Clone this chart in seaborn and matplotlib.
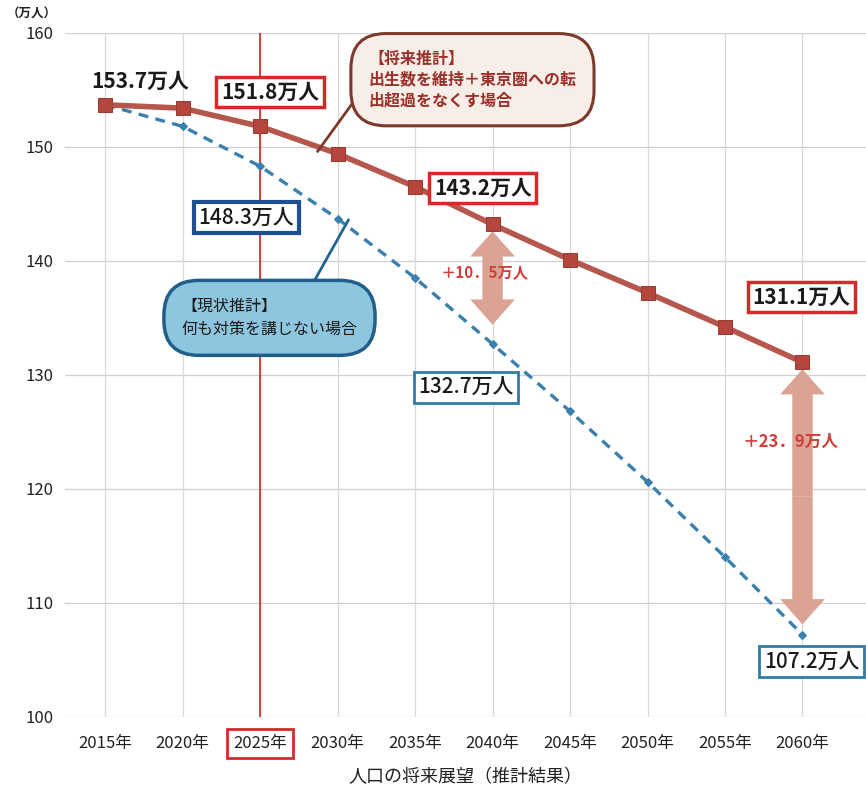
import numpy as np
import pandas as pd
import matplotlib.pyplot as plt
import seaborn as sns
from matplotlib.patches import FancyArrowPatch

years = [2015, 2020, 2025, 2030, 2035, 2040, 2045, 2050, 2055, 2060]
future_pop = [153.7, 153.4, 151.8, 149.4, 146.5, 143.2, 140.1, 137.2, 134.2, 131.1]
current_pop = [153.7, 151.8, 148.3, 143.7, 138.5, 132.7, 126.8, 120.6, 114.0, 107.2]
year_labels = [f"{y}年" for y in years]
yticks = [100, 110, 120, 130, 140, 150, 160]

sns.set_style("white")
plt.rcParams['font.family'] = ['Noto Sans CJK JP', 'DejaVu Sans']

df = pd.DataFrame({"year": years, "future": future_pop, "current": current_pop})

fig = plt.figure(figsize=(8.66, 7.85), dpi=100)
ax = fig.add_axes([0.075, 0.087, 0.925, 0.871])

# grid
for yv in yticks:
    ax.axhline(yv, color="#cfcfcf", lw=0.9, zorder=0)
for xv in years:
    ax.axvline(xv, color="#d8d8d8", lw=0.9, zorder=0)
ax.axvline(2025, color="#d3302c", lw=1.3, zorder=1)

sns.lineplot(data=df, x="year", y="current", ax=ax, color="#3a80ae", lw=2.4,
             linestyle=(0, (3, 2.2)), marker="D", markersize=4,
             markeredgecolor="#3a80ae", zorder=3)
sns.lineplot(data=df, x="year", y="future", ax=ax, color="#b5574c", lw=4,
             marker="s", markersize=10, markerfacecolor="#b4463e",
             markeredgecolor="#9c3b34", zorder=4)

ax.set_xlim(2012.4, 2064.1)
ax.set_ylim(100, 160)
ax.set_yticks(yticks)
ax.set_yticklabels([str(v) for v in yticks], fontsize=12, color="#222222")
ax.set_xticks(years)
ax.set_xticklabels(year_labels, fontsize=12, color="#222222")
ax.tick_params(axis="y", length=0, pad=8)
ax.tick_params(axis="x", length=0, pad=13)
for s in ax.spines.values():
    s.set_visible(False)
ax.set_ylabel("")
ax.set_xlabel("人口の将来展望（推計結果）", fontsize=13, color="#222222", labelpad=12)
for lab in ax.get_xticklabels():
    if lab.get_text() == "2025年":
        lab.set_bbox(dict(boxstyle="square,pad=0.35", fc="white", ec="#d42a2a", lw=2))
fig.text(0.008, 0.982, "（万人）", fontsize=9, fontweight="bold", color="#222222",
         va="center", ha="left")

# value labels
def vlabel(txt, x, y, dx, dy, ec=None, lw=2.5, weight="bold"):
    kw = dict(fontsize=15, fontweight=weight, color="#1a1a1a", ha="center",
              va="center", textcoords="offset points", zorder=6)
    if ec:
        kw["bbox"] = dict(boxstyle="square,pad=0.22", fc="white", ec=ec, lw=lw)
    ax.annotate(txt, xy=(x, y), xytext=(dx, dy), **kw)

vlabel("153.7万人", 2015, future_pop[0], 25, 17)
vlabel("151.8万人", 2025, future_pop[2], 7, 24.5, ec="#d42a2a")
vlabel("143.2万人", 2040, future_pop[5], -7, 26, ec="#d42a2a")
vlabel("131.1万人", 2060, future_pop[9], -1, 47, ec="#d42a2a")
vlabel("148.3万人", 2025, current_pop[2], -10, -37, ec="#1d4f95", lw=3, weight="medium")
vlabel("132.7万人", 2040, current_pop[5], -19, -31, ec="#2f7ca8", lw=2, weight="medium")
vlabel("107.2万人", 2060, current_pop[9], 6.5, -19.5, ec="#2f7ca8", lw=2, weight="medium")

# gap arrows
def darrow(x, top, bottom):
    mid = (top + bottom) / 2
    for end in (top, bottom):
        ax.add_patch(FancyArrowPatch((x, mid), (x, end),
                                     arrowstyle="simple,head_length=1.3,head_width=2.3,tail_width=1.05",
                                     mutation_scale=14, color="#dba394", lw=0, zorder=2,
                                     shrinkA=0, shrinkB=0))

darrow(2040, future_pop[5] - 0.6, current_pop[5] + 1.7)
darrow(2060, future_pop[9] - 0.6, current_pop[9] + 0.9)
ax.text(2039.5, 139.0, "＋10．5万人", fontsize=11, fontweight="bold", color="#d0403a",
        ha="center", va="center", zorder=5)
ax.text(2059.2, 124.1, "＋23．9万人", fontsize=12, fontweight="bold", color="#d0403a",
        ha="center", va="center", zorder=5)

# callouts
ax.plot([2031.1, 2028.7], [154.1, 149.6], color="#7b3a2c", lw=2, zorder=5)
ax.text(2038.7, 155.9, "【将来推計】\n出生数を維持＋東京圏への転\n出超過をなくす場合",
        fontsize=11.5, fontweight="bold", color="#9b2f2a", ha="center", va="center",
        multialignment="left", linespacing=1.35, zorder=6,
        bbox=dict(boxstyle="round,pad=1.1,rounding_size=2.2", fc="#f7eee7",
                  ec="#7b3a2c", lw=2.2))
ax.plot([2028.35, 2030.7], [137.9, 143.6], color="#1f6690", lw=2, zorder=5)
ax.text(2025.6, 135.0, "【現状推計】\n何も対策を講じない場合",
        fontsize=11.5, color="#1a1a1a", ha="center", va="center",
        multialignment="left", linespacing=1.45, zorder=6,
        bbox=dict(boxstyle="round,pad=1.1,rounding_size=2.2", fc="#8ec5df",
                  ec="#1f5f8a", lw=2.5))

fig.savefig("out.png", dpi=100, facecolor="white")
